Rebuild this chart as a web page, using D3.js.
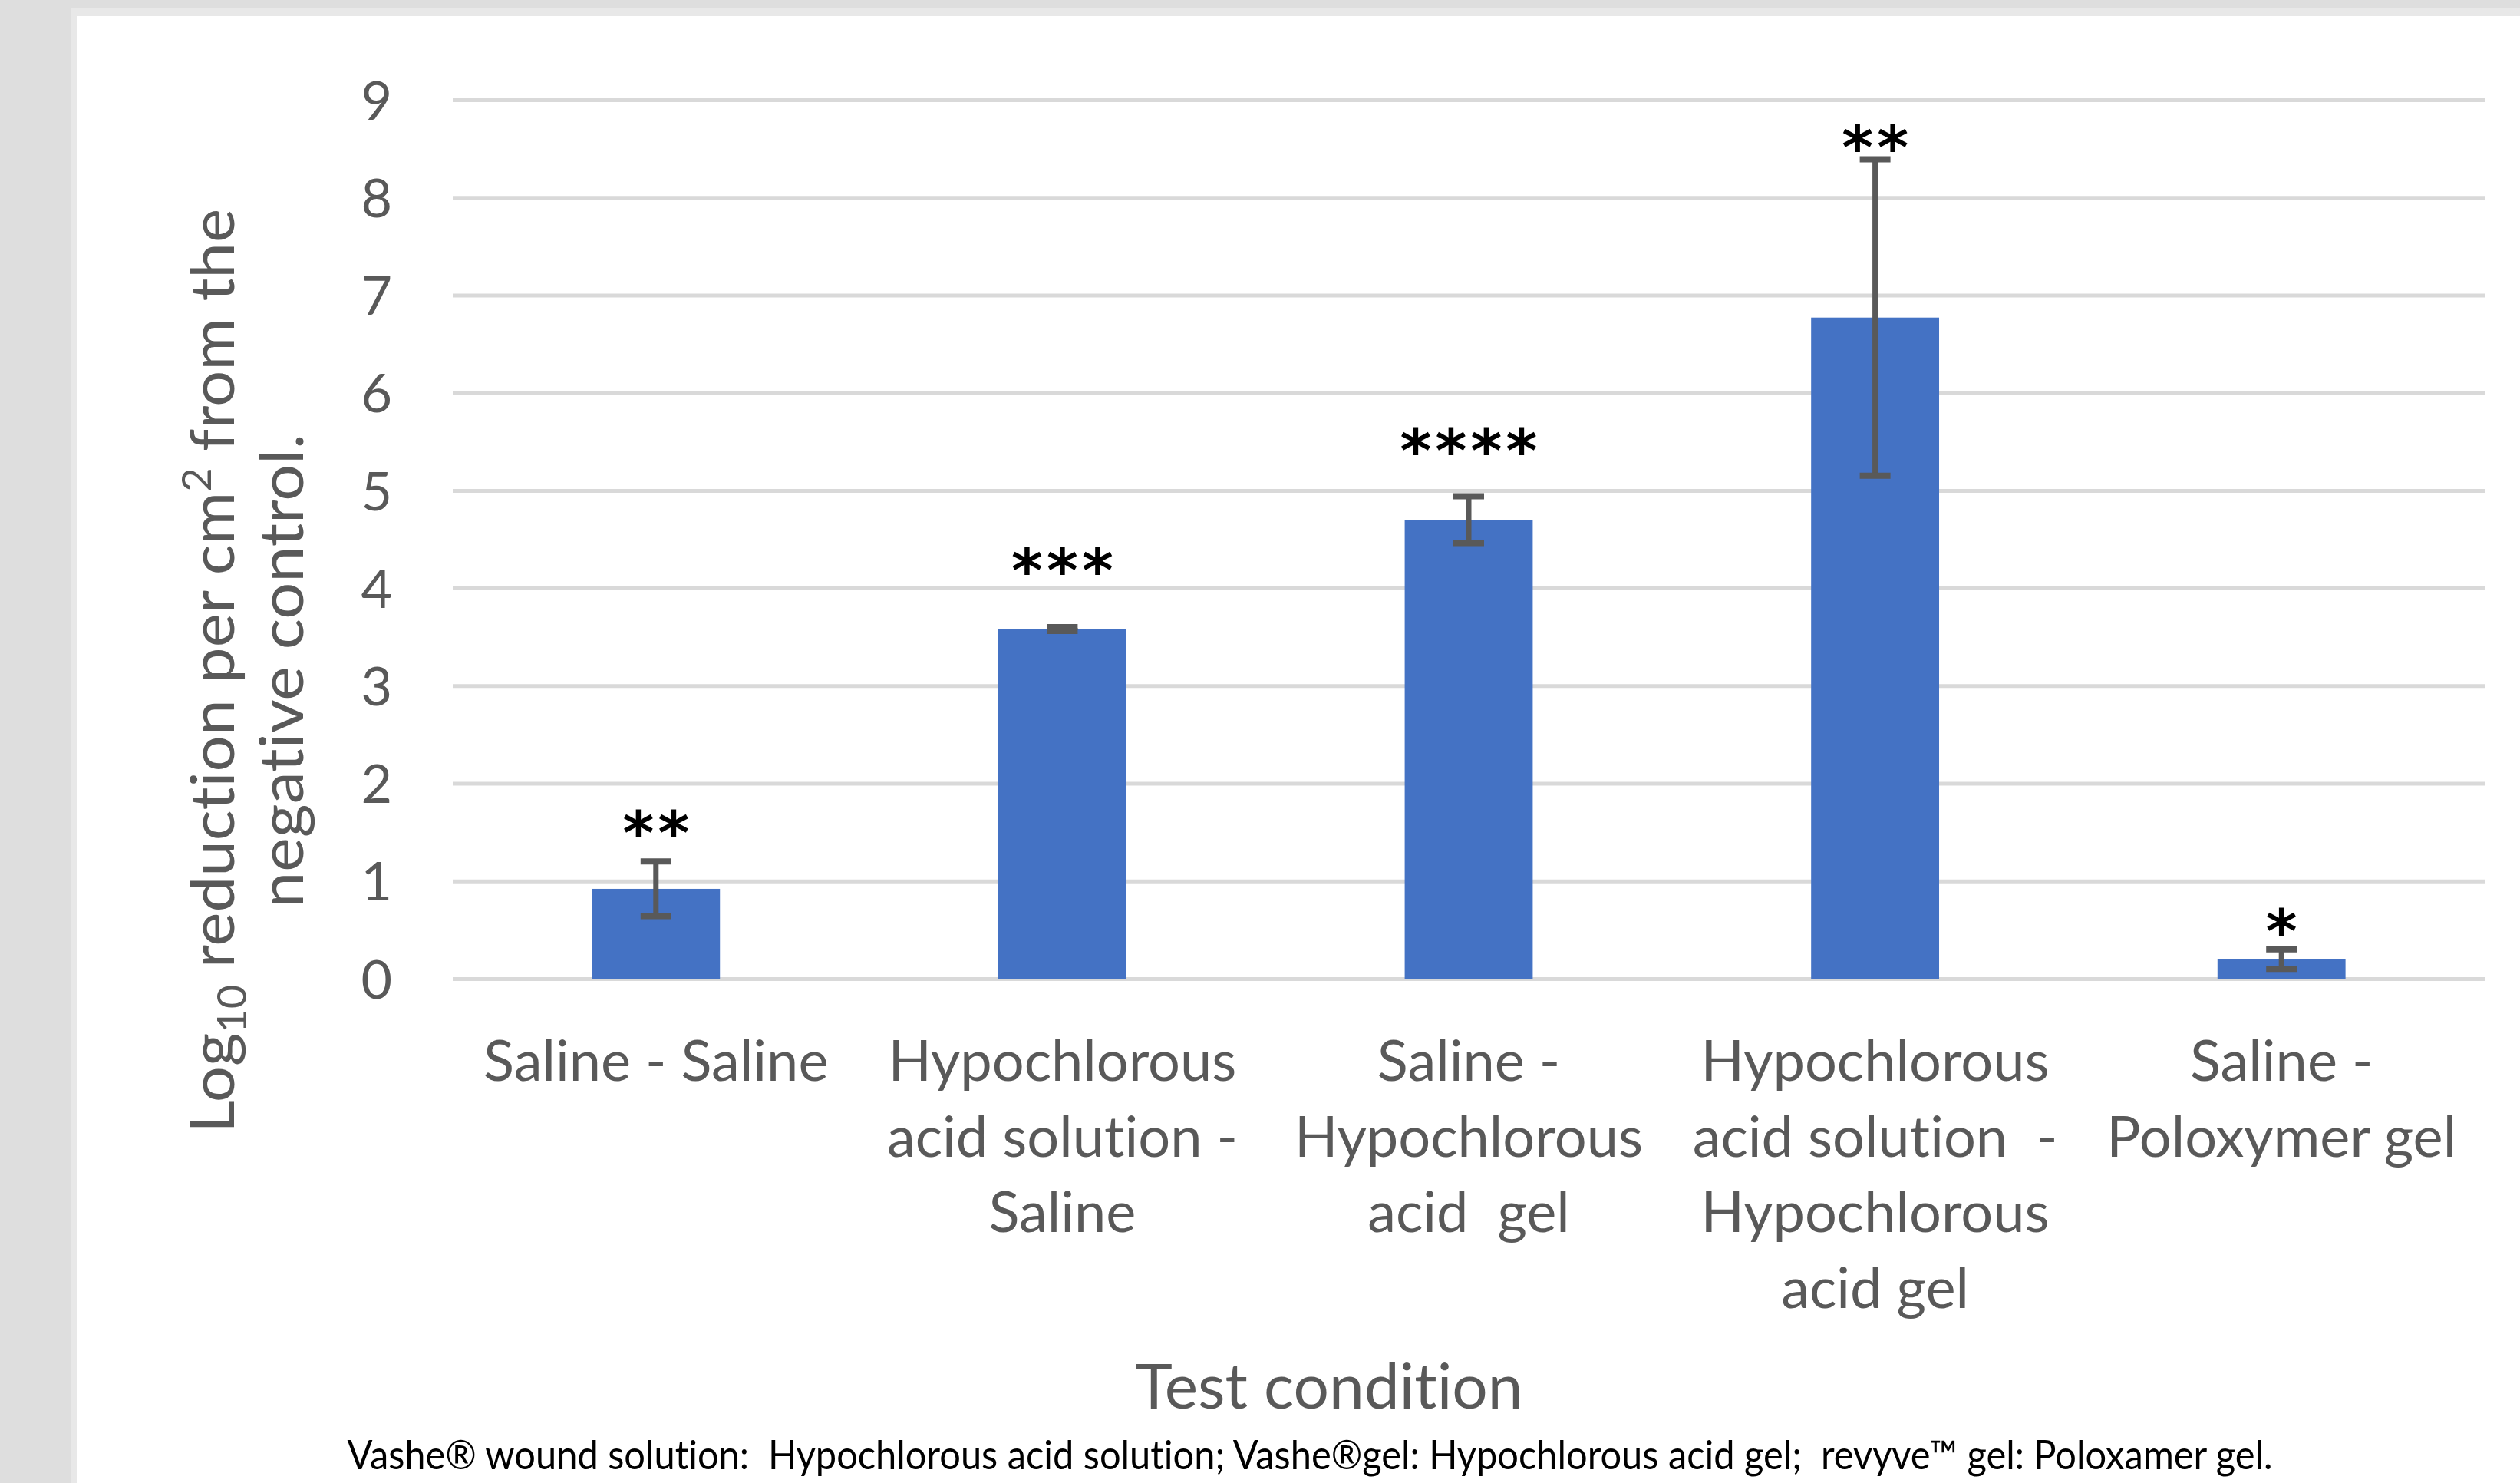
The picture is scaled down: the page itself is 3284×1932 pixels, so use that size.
<!DOCTYPE html>
<html>
<head>
<meta charset="utf-8">
<script src="https://cdn.jsdelivr.net/npm/d3@7/dist/d3.min.js"></script>
<style>
  body { margin: 0; background: #dedede; }
  svg { display: block; font-family: Lato, "Open Sans", sans-serif; font-variant-ligatures: none; }
  text { white-space: pre; font-variant-ligatures: none; }
</style>
</head>
<body>
<div id="chart"></div>
<script>
// category labels, one entry per wrapped line (as in the original)
var categories = [
  ['Saline - Saline'],
  ['Hypochlorous', 'acid solution -', 'Saline'],
  ['Saline -', 'Hypochlorous', 'acid  gel'],
  ['Hypochlorous', 'acid solution  -', 'Hypochlorous', 'acid gel'],
  ['Saline -', 'Poloxymer gel']
];
// mean log10 reduction and its error
var means = [0.92, 3.58, 4.70, 6.77, 0.20];
var errors = [0.28, 0.02, 0.24, 1.62, 0.10];
// significance marks and the value they sit at
var sigLabels = ['**', '***', '****', '**', '*'];
var sigHeights = [1.62, 4.31, 5.53, 8.64, 0.61];
var yTicks = [0, 1, 2, 3, 4, 5, 6, 7, 8, 9];

var W = 3284, H = 1932;
var grey = '#595959';

var svg = d3.select('#chart').append('svg')
  .attr('width', W)
  .attr('height', H);

// panel frame like the page the chart was cut from
svg.append('rect').attr('x', 92).attr('y', 10).attr('width', W).attr('height', H).attr('fill', '#e8e8e8');
svg.append('rect').attr('x', 100).attr('y', 21).attr('width', W).attr('height', H).attr('fill', '#ffffff');

var x = d3.scaleBand()
  .domain(d3.range(categories.length))
  .range([590, 3238])
  .paddingInner(0.685)
  .paddingOuter(0.3425);

var y = d3.scaleLinear()
  .domain([0, 9])
  .range([1275, 130]);

//gridlines
var grid = svg.append('g')
  .attr('transform', 'translate(590,0)')
  .call(d3.axisLeft(y).tickValues(yTicks).tickSize(-(3238 - 590)).tickFormat(''));
grid.select('.domain').remove();
grid.selectAll('line').attr('stroke', '#d9d9d9').attr('stroke-width', 5);

//tick labels
var yAxis = svg.append('g')
  .attr('transform', 'translate(590,0)')
  .call(d3.axisLeft(y).tickValues(yTicks).tickSize(0).tickPadding(79));
yAxis.select('.domain').remove();
yAxis.selectAll('text')
  .attr('fill', grey)
  .attr('font-family', 'Lato, sans-serif')
  .attr('font-size', 70)
  .attr('dy', '0.36em');

//bars
svg.selectAll('rect.bar')
  .data(means)
  .enter().append('rect')
  .attr('class', 'bar')
  .attr('x', function (d, i) { return x(i); })
  .attr('width', x.bandwidth())
  .attr('y', function (d) { return y(d); })
  .attr('height', function (d) { return y(0) - y(d); })
  .attr('fill', '#4472c4');

//error bars
var capW = 40;
var err = svg.selectAll('g.err')
  .data(means)
  .enter().append('g')
  .attr('class', 'err')
  .attr('stroke', grey);

err.append('line')
  .attr('x1', function (d, i) { return x(i) + x.bandwidth() / 2; })
  .attr('x2', function (d, i) { return x(i) + x.bandwidth() / 2; })
  .attr('y1', function (d, i) { return y(d + errors[i]); })
  .attr('y2', function (d, i) { return y(d - errors[i]); })
  .attr('stroke-width', 7);

err.append('line')
  .attr('x1', function (d, i) { return x(i) + x.bandwidth() / 2 - capW / 2; })
  .attr('x2', function (d, i) { return x(i) + x.bandwidth() / 2 + capW / 2; })
  .attr('y1', function (d, i) { return y(d + errors[i]); })
  .attr('y2', function (d, i) { return y(d + errors[i]); })
  .attr('stroke-width', 8);

err.append('line')
  .attr('x1', function (d, i) { return x(i) + x.bandwidth() / 2 - capW / 2; })
  .attr('x2', function (d, i) { return x(i) + x.bandwidth() / 2 + capW / 2; })
  .attr('y1', function (d, i) { return y(d - errors[i]); })
  .attr('y2', function (d, i) { return y(d - errors[i]); })
  .attr('stroke-width', 8);

//significance asterisks, each star placed on its own
var pitch = 46;
sigLabels.forEach(function (s, i) {
  var cx = x(i) + x.bandwidth() / 2;
  for (var k = 0; k < s.length; k++) {
    svg.append('text')
      .attr('x', cx + (k - (s.length - 1) / 2) * pitch)
      .attr('y', y(sigHeights[i]) + 44)
      .attr('text-anchor', 'middle')
      .attr('font-family', 'DejaVu Sans, sans-serif')
      .attr('font-weight', 'bold')
      .attr('font-size', 78)
      .attr('fill', '#000')
      .text('*');
  }
});

//category labels
var cat = svg.selectAll('text.cat')
  .data(categories)
  .enter().append('text')
  .attr('class', 'cat')
  .attr('text-anchor', 'middle')
  .attr('font-size', 74)
  .attr('fill', grey);

cat.selectAll('tspan')
  .data(function (d, i) { return d.map(function (t) { return { t: t, i: i }; }); })
  .enter().append('tspan')
  .attr('x', function (d) { return x(d.i) + x.bandwidth() / 2; })
  .attr('y', function (d, j) { return 1408 + j * 98.5; })
  .text(function (d) { return d.t; });

//x axis title
svg.append('text')
  .attr('x', 1732)
  .attr('y', 1835)
  .attr('text-anchor', 'middle')
  .attr('font-size', 82)
  .attr('fill', grey)
  .text('Test condition');

//y axis title, two rotated lines
var yt1 = svg.append('text')
  .attr('transform', 'translate(305,874) rotate(-90)')
  .attr('text-anchor', 'middle')
  .attr('font-size', 80)
  .attr('fill', grey)
  .attr('textLength', 1204)
  .attr('lengthAdjust', 'spacingAndGlyphs');
yt1.append('tspan').text('Log');
yt1.append('tspan').attr('font-size', 52).attr('dy', 16).text('10');
yt1.append('tspan').attr('dy', -16).text(' reduction per cm');
yt1.append('tspan').attr('font-size', 52).attr('dy', -30).text('2');
yt1.append('tspan').attr('dy', 30).text(' from the');

svg.append('text')
  .attr('transform', 'translate(395,874) rotate(-90)')
  .attr('text-anchor', 'middle')
  .attr('font-size', 80)
  .attr('fill', grey)
  .attr('textLength', 618)
  .attr('lengthAdjust', 'spacingAndGlyphs')
  .text('negative control.');

//footnote
svg.append('text')
  .attr('x', 1707)
  .attr('y', 1914)
  .attr('text-anchor', 'middle')
  .attr('font-size', 52)
  .attr('fill', '#000')
  .attr('textLength', 2509)
  .attr('lengthAdjust', 'spacingAndGlyphs')
  .text('Vashe\u00ae wound solution:  Hypochlorous acid solution; Vashe\u00aegel: Hypochlorous acid gel;  revyve\u2122 gel: Poloxamer gel.');
</script>
</body>
</html>
